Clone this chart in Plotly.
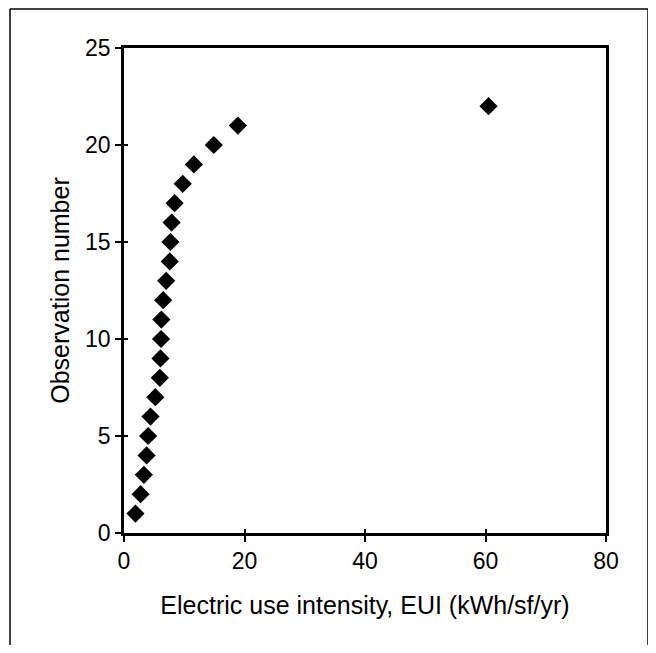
import plotly.graph_objects as go

# Data
eui = [1.9, 2.75, 3.3, 3.75, 4.0, 4.4, 5.2, 5.95, 6.05, 6.15, 6.2, 6.5, 7.0, 7.6, 7.7, 7.9, 8.4, 9.75, 11.6, 14.9, 18.9, 60.5]
obs = list(range(1, 23))

x_ticks = [0, 20, 40, 60, 80]
y_ticks = [0, 5, 10, 15, 20, 25]

# the page body has an 8px margin, so the figure is sized to fit inside it
W, H = 642, 637
L, R, T, B = 116, 598, 40, 525  # plot area in figure pixels

fig = go.Figure()
fig.add_trace(go.Scatter(
    x=eui, y=obs, mode="markers",
    marker=dict(symbol="diamond", size=14, color="black"),
    showlegend=False,
))
# empty trace carrying the inner half of the crossing ticks
fig.add_trace(go.Scatter(x=[None], y=[None], xaxis="x2", yaxis="y2",
                         showlegend=False, hoverinfo="skip"))

font = dict(family="Liberation Sans, Arial, sans-serif", size=23, color="black")

fig.update_layout(
    width=W, height=H,
    margin=dict(l=L, r=W - R, t=T, b=H - B, autoexpand=False),
    paper_bgcolor="white", plot_bgcolor="white",
    font=font,
    xaxis=dict(
        range=[0, 80], tickvals=x_ticks, showgrid=False, zeroline=False,
        showline=True, linecolor="black", linewidth=2.5, mirror=True,
        ticks="outside", ticklen=6, tickwidth=1.5, tickcolor="black",
        title=dict(text="Electric use intensity, EUI (kWh/sf/yr)", standoff=24,
                   font=dict(size=25)),
    ),
    yaxis=dict(
        range=[0, 25], tickvals=y_ticks, showgrid=False, zeroline=False,
        showline=True, linecolor="black", linewidth=2.5, mirror=True,
        ticks="outside", ticklen=6, tickwidth=1.5, tickcolor="black",
        title=dict(text="Observation number", standoff=9, font=dict(size=25)),
    ),
    xaxis2=dict(
        overlaying="x", anchor="y2", range=[0, 80], tickvals=x_ticks,
        showticklabels=False, showgrid=False, zeroline=False, showline=False,
        ticks="inside", ticklen=4, tickwidth=1.5, tickcolor="black",
    ),
    yaxis2=dict(
        overlaying="y", anchor="x2", range=[0, 25], tickvals=y_ticks,
        showticklabels=False, showgrid=False, zeroline=False, showline=False,
        ticks="inside", ticklen=4, tickwidth=1.5, tickcolor="black",
    ),
)

# outer frame (left, top, right edges)
pw, ph = R - L, B - T
def px(xp):
    return (xp - L) / pw
def py(yp):
    return (B - yp) / ph
fl, ft, fr, fb = 2, 1, 640, 660
for x0, y0, x1, y1 in [(fl, fb, fl, ft), (fl, ft, fr, ft), (fr, ft, fr, fb)]:
    fig.add_shape(type="line", xref="paper", yref="paper",
                  x0=px(x0), y0=py(y0), x1=px(x1), y1=py(y1),
                  line=dict(color="black", width=1.5))

fig.write_html("out.html")
